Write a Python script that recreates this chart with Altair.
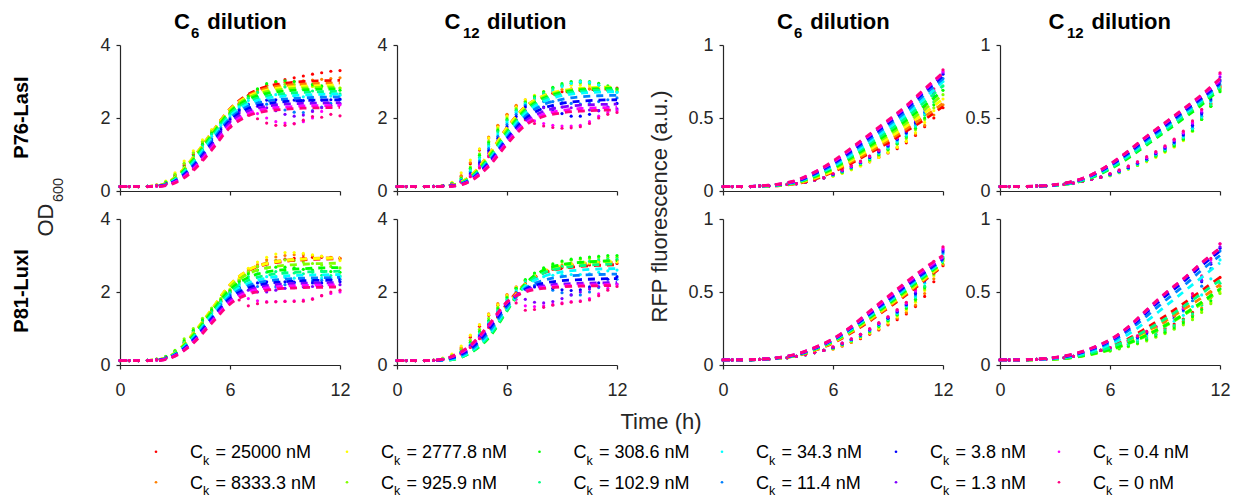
import altair as alt
import pandas as pd

FONT = "Liberation Sans"
INK = "#262626"

T_DOT = [0, 0.5, 1, 1.5, 2, 2.5, 3, 3.5, 4, 4.5, 5, 5.5, 6, 6.5, 7, 7.5, 8, 8.5, 9, 9.5, 10, 10.5, 11, 11.5, 12]
T_FIT = [0, 1, 2, 3, 4, 5, 6, 7, 8, 9, 10, 11, 12]

CONC = ["25000", "8333.3", "2777.8", "925.9", "308.6", "102.9", "34.3", "11.4", "3.8", "1.3", "0.4", "0"]
COLORS = ["#ff0000", "#ff8000", "#ffff00", "#80ff00", "#00ff00", "#00ff80",
          "#00ffff", "#0080ff", "#0000ff", "#8000ff", "#ff00ff", "#ff0080"]

# ---------------- P76-LasI, C6 dilution, OD600 ----------------
A_DOTS = [
    [0.12,0.12,0.12,0.13,0.16,0.24,0.42,0.70,1.00,1.32,1.62,1.90,2.15,2.40,2.62,2.78,2.90,2.98,3.05,3.10,3.15,3.20,3.24,3.28,3.30],
    [0.12,0.12,0.12,0.13,0.16,0.25,0.45,0.74,1.05,1.36,1.66,1.93,2.17,2.40,2.60,2.75,2.86,2.93,2.98,3.00,3.02,3.04,3.06,3.08,3.10],
    [0.12,0.12,0.12,0.13,0.17,0.27,0.50,0.82,1.10,1.40,1.68,1.94,2.16,2.38,2.56,2.70,2.79,2.84,2.86,2.87,2.87,2.86,2.85,2.83,2.82],
    [0.12,0.12,0.12,0.13,0.16,0.25,0.46,0.76,1.04,1.34,1.63,1.90,2.14,2.36,2.56,2.72,2.84,2.90,2.92,2.92,2.90,2.88,2.86,2.84,2.82],
    [0.12,0.12,0.12,0.13,0.15,0.23,0.40,0.66,0.96,1.28,1.58,1.87,2.12,2.36,2.60,2.80,2.94,3.00,3.02,3.00,2.96,2.92,2.88,2.82,2.76],
    [0.12,0.12,0.12,0.13,0.15,0.22,0.38,0.62,0.92,1.24,1.55,1.84,2.10,2.33,2.54,2.70,2.80,2.85,2.85,2.82,2.78,2.74,2.70,2.68,2.66],
    [0.12,0.12,0.12,0.13,0.15,0.21,0.35,0.58,0.87,1.19,1.50,1.80,2.06,2.30,2.48,2.58,2.63,2.64,2.62,2.60,2.58,2.57,2.58,2.60,2.62],
    [0.12,0.12,0.12,0.13,0.15,0.20,0.33,0.54,0.81,1.12,1.43,1.73,2.00,2.24,2.38,2.42,2.38,2.30,2.22,2.16,2.15,2.20,2.30,2.40,2.50],
    [0.12,0.12,0.12,0.13,0.14,0.20,0.31,0.50,0.76,1.06,1.38,1.68,1.96,2.20,2.36,2.45,2.49,2.50,2.50,2.49,2.48,2.48,2.49,2.50,2.52],
    [0.12,0.12,0.12,0.12,0.14,0.19,0.29,0.46,0.70,1.00,1.32,1.62,1.90,2.14,2.28,2.32,2.28,2.20,2.10,2.05,2.08,2.18,2.28,2.35,2.40],
    [0.12,0.12,0.12,0.12,0.14,0.18,0.27,0.42,0.64,0.92,1.22,1.52,1.80,2.04,2.16,2.12,2.00,1.90,1.86,1.85,1.90,2.00,2.18,2.30,2.36],
    [0.12,0.12,0.12,0.12,0.14,0.18,0.26,0.40,0.60,0.86,1.16,1.46,1.74,1.98,2.08,1.98,1.86,1.80,1.80,1.84,1.94,2.04,2.02,2.10,2.06],
]
A_FIT = [
    [0.12,0.12,0.14,0.36,0.90,1.58,2.25,2.65,2.86,2.95,3.00,3.02,3.03],
    [0.12,0.12,0.14,0.37,0.92,1.60,2.25,2.62,2.81,2.89,2.93,2.95,2.96],
    [0.12,0.12,0.14,0.37,0.92,1.59,2.23,2.59,2.76,2.84,2.87,2.89,2.90],
    [0.12,0.12,0.14,0.35,0.89,1.56,2.20,2.55,2.72,2.79,2.82,2.84,2.85],
    [0.12,0.12,0.13,0.34,0.85,1.52,2.16,2.51,2.67,2.74,2.77,2.79,2.80],
    [0.12,0.12,0.13,0.32,0.81,1.47,2.11,2.45,2.60,2.67,2.70,2.72,2.73],
    [0.12,0.12,0.13,0.30,0.77,1.42,2.05,2.39,2.54,2.60,2.63,2.65,2.66],
    [0.12,0.12,0.13,0.28,0.72,1.36,1.99,2.32,2.46,2.52,2.55,2.57,2.58],
    [0.12,0.12,0.13,0.27,0.68,1.30,1.93,2.26,2.39,2.45,2.48,2.49,2.50],
    [0.12,0.12,0.13,0.25,0.64,1.24,1.87,2.19,2.32,2.38,2.40,2.41,2.42],
    [0.12,0.12,0.12,0.24,0.60,1.18,1.80,2.12,2.25,2.30,2.33,2.34,2.35],
    [0.12,0.12,0.12,0.22,0.56,1.12,1.74,2.06,2.19,2.24,2.27,2.28,2.29],
]

# ---------------- P76-LasI, C12 dilution, OD600 ----------------
B_DOTS = [
    [0.12,0.12,0.12,0.12,0.13,0.15,0.22,0.40,0.75,1.12,1.45,1.78,2.08,2.32,2.45,2.55,2.62,2.68,2.72,2.75,2.78,2.80,2.82,2.83,2.82],
    [0.12,0.12,0.12,0.12,0.13,0.15,0.22,0.42,0.78,1.15,1.48,1.80,2.10,2.35,2.50,2.60,2.68,2.74,2.78,2.80,2.80,2.80,2.78,2.76,2.74],
    [0.12,0.12,0.12,0.12,0.13,0.15,0.24,0.50,0.85,1.15,1.45,1.75,2.05,2.30,2.50,2.62,2.72,2.80,2.86,2.90,2.90,2.88,2.85,2.80,2.75],
    [0.12,0.12,0.12,0.12,0.13,0.15,0.21,0.36,0.66,1.02,1.36,1.70,2.00,2.26,2.45,2.60,2.72,2.82,2.90,2.95,2.96,2.94,2.90,2.84,2.78],
    [0.12,0.12,0.12,0.12,0.13,0.14,0.20,0.34,0.62,0.98,1.32,1.66,1.96,2.22,2.42,2.58,2.72,2.84,2.94,3.00,3.02,3.00,2.95,2.88,2.80],
    [0.12,0.12,0.12,0.12,0.13,0.14,0.19,0.32,0.58,0.92,1.27,1.62,1.93,2.20,2.40,2.55,2.68,2.80,2.90,2.96,2.98,2.96,2.90,2.82,2.72],
    [0.12,0.12,0.12,0.12,0.13,0.14,0.19,0.30,0.54,0.88,1.22,1.56,1.88,2.16,2.38,2.50,2.62,2.74,2.86,2.95,3.00,2.98,2.90,2.80,2.70],
    [0.12,0.12,0.12,0.12,0.13,0.14,0.18,0.28,0.50,0.82,1.16,1.50,1.82,2.10,2.35,2.42,2.45,2.45,2.42,2.40,2.38,2.40,2.45,2.50,2.55],
    [0.12,0.12,0.12,0.12,0.13,0.14,0.18,0.27,0.47,0.77,1.10,1.44,1.76,2.04,2.30,2.32,2.30,2.22,2.12,2.05,2.05,2.10,2.20,2.30,2.40],
    [0.12,0.12,0.12,0.12,0.13,0.14,0.17,0.26,0.44,0.72,1.04,1.37,1.69,1.96,2.20,2.25,2.28,2.30,2.30,2.28,2.25,2.22,2.20,2.22,2.25],
    [0.12,0.12,0.12,0.12,0.12,0.13,0.17,0.25,0.41,0.67,0.98,1.30,1.62,1.88,2.00,1.92,1.85,1.80,1.78,1.78,1.80,1.90,2.05,2.15,2.20],
    [0.12,0.12,0.12,0.12,0.12,0.13,0.16,0.24,0.39,0.63,0.94,1.26,1.58,1.84,1.95,1.85,1.78,1.74,1.72,1.73,1.76,1.85,2.00,2.10,2.15],
]
B_FIT = [
    [0.12,0.12,0.12,0.16,0.40,0.98,1.72,2.30,2.58,2.70,2.76,2.79,2.80],
    [0.12,0.12,0.12,0.16,0.41,1.00,1.74,2.31,2.60,2.73,2.79,2.82,2.83],
    [0.12,0.12,0.12,0.16,0.41,0.99,1.72,2.30,2.61,2.75,2.81,2.84,2.85],
    [0.12,0.12,0.12,0.15,0.38,0.94,1.66,2.25,2.57,2.72,2.79,2.82,2.83],
    [0.12,0.12,0.12,0.15,0.36,0.90,1.61,2.21,2.54,2.70,2.77,2.80,2.81],
    [0.12,0.12,0.12,0.15,0.35,0.87,1.57,2.17,2.50,2.66,2.73,2.76,2.77],
    [0.12,0.12,0.12,0.14,0.33,0.83,1.52,2.12,2.45,2.61,2.68,2.71,2.72],
    [0.12,0.12,0.12,0.14,0.32,0.80,1.47,2.05,2.37,2.51,2.58,2.61,2.62],
    [0.12,0.12,0.12,0.14,0.30,0.76,1.42,1.98,2.27,2.40,2.46,2.49,2.50],
    [0.12,0.12,0.12,0.14,0.29,0.73,1.37,1.91,2.18,2.30,2.35,2.37,2.38],
    [0.12,0.12,0.12,0.13,0.28,0.70,1.32,1.85,2.10,2.21,2.26,2.28,2.29],
    [0.12,0.12,0.12,0.13,0.27,0.67,1.28,1.80,2.04,2.14,2.19,2.21,2.22],
]

# ---------------- P81-LuxI, C6 dilution, OD600 ----------------
C_DOTS = [
    [0.12,0.12,0.12,0.13,0.15,0.21,0.34,0.58,0.88,1.18,1.46,1.74,2.00,2.30,2.55,2.70,2.80,2.86,2.90,2.92,2.94,2.95,2.95,2.94,2.92],
    [0.12,0.12,0.12,0.13,0.15,0.22,0.36,0.62,0.92,1.22,1.50,1.78,2.04,2.34,2.60,2.75,2.88,2.96,3.00,3.02,3.02,3.00,2.98,2.95,2.92],
    [0.12,0.12,0.12,0.13,0.16,0.23,0.38,0.66,0.96,1.26,1.54,1.82,2.08,2.38,2.65,2.82,2.95,3.04,3.08,3.08,3.06,3.02,2.98,2.92,2.86],
    [0.12,0.12,0.12,0.13,0.16,0.24,0.40,0.72,1.00,1.28,1.56,1.82,2.06,2.32,2.55,2.70,2.80,2.86,2.88,2.86,2.82,2.78,2.74,2.70,2.66],
    [0.12,0.12,0.12,0.13,0.16,0.23,0.38,0.66,0.95,1.23,1.51,1.78,2.03,2.28,2.50,2.60,2.66,2.68,2.68,2.66,2.62,2.60,2.58,2.56,2.54],
    [0.12,0.12,0.12,0.13,0.15,0.22,0.36,0.62,0.90,1.18,1.46,1.74,1.99,2.22,2.42,2.50,2.54,2.56,2.55,2.52,2.50,2.48,2.46,2.45,2.44],
    [0.12,0.12,0.12,0.13,0.15,0.21,0.34,0.58,0.85,1.13,1.41,1.70,1.95,2.17,2.35,2.40,2.42,2.42,2.40,2.38,2.36,2.36,2.38,2.40,2.42],
    [0.12,0.12,0.12,0.13,0.15,0.20,0.32,0.54,0.80,1.08,1.36,1.65,1.92,2.10,2.20,2.15,2.12,2.14,2.20,2.25,2.28,2.30,2.32,2.34,2.35],
    [0.12,0.12,0.12,0.13,0.14,0.20,0.31,0.51,0.76,1.04,1.32,1.61,1.88,2.12,2.20,2.25,2.28,2.28,2.28,2.27,2.26,2.25,2.25,2.26,2.28],
    [0.12,0.12,0.12,0.12,0.14,0.19,0.29,0.48,0.72,0.99,1.28,1.57,1.83,2.02,2.05,2.00,2.00,2.05,2.10,2.12,2.14,2.15,2.16,2.18,2.20],
    [0.12,0.12,0.12,0.12,0.14,0.18,0.27,0.45,0.68,0.95,1.24,1.53,1.80,1.92,1.82,1.76,1.74,1.74,1.75,1.76,1.78,1.82,1.90,1.96,2.00],
    [0.12,0.12,0.12,0.12,0.14,0.18,0.26,0.43,0.65,0.92,1.21,1.50,1.76,1.78,1.62,1.68,1.72,1.73,1.74,1.74,1.75,1.80,1.90,2.00,2.05],
]
C_FIT = [
    [0.12,0.12,0.14,0.32,0.84,1.50,2.18,2.58,2.76,2.84,2.88,2.90,2.91],
    [0.12,0.12,0.14,0.33,0.86,1.52,2.20,2.60,2.79,2.87,2.91,2.93,2.94],
    [0.12,0.12,0.14,0.33,0.87,1.53,2.20,2.60,2.78,2.86,2.90,2.92,2.93],
    [0.12,0.12,0.14,0.32,0.84,1.49,2.13,2.50,2.66,2.73,2.76,2.78,2.79],
    [0.12,0.12,0.13,0.31,0.80,1.44,2.06,2.40,2.55,2.61,2.64,2.66,2.67],
    [0.12,0.12,0.13,0.30,0.77,1.39,1.99,2.32,2.46,2.52,2.55,2.56,2.57],
    [0.12,0.12,0.13,0.29,0.74,1.35,1.93,2.24,2.38,2.44,2.46,2.47,2.48],
    [0.12,0.12,0.13,0.28,0.71,1.30,1.87,2.17,2.30,2.35,2.38,2.39,2.40],
    [0.12,0.12,0.13,0.27,0.68,1.26,1.82,2.11,2.23,2.28,2.31,2.32,2.33],
    [0.12,0.12,0.13,0.26,0.65,1.22,1.77,2.05,2.17,2.22,2.24,2.25,2.26],
    [0.12,0.12,0.12,0.25,0.62,1.18,1.72,2.00,2.11,2.16,2.18,2.19,2.20],
    [0.12,0.12,0.12,0.24,0.60,1.14,1.67,1.94,2.05,2.10,2.12,2.13,2.14],
]

# ---------------- P81-LuxI, C12 dilution, OD600 ----------------
D_DOTS = [
    [0.12,0.12,0.12,0.12,0.13,0.17,0.26,0.44,0.76,1.06,1.36,1.64,1.90,2.12,2.30,2.45,2.55,2.62,2.67,2.70,2.72,2.74,2.76,2.77,2.78],
    [0.12,0.12,0.12,0.12,0.13,0.18,0.28,0.48,0.80,1.10,1.40,1.68,1.93,2.14,2.32,2.48,2.60,2.68,2.74,2.78,2.80,2.82,2.84,2.85,2.86],
    [0.12,0.12,0.12,0.12,0.14,0.19,0.30,0.52,0.82,1.10,1.38,1.65,1.90,2.12,2.30,2.45,2.56,2.64,2.70,2.74,2.77,2.79,2.80,2.81,2.82],
    [0.12,0.12,0.12,0.12,0.13,0.17,0.26,0.42,0.68,0.98,1.28,1.58,1.86,2.10,2.32,2.50,2.64,2.74,2.82,2.87,2.90,2.92,2.94,2.95,2.95],
    [0.12,0.12,0.12,0.12,0.13,0.16,0.24,0.38,0.62,0.92,1.22,1.54,1.84,2.10,2.34,2.52,2.66,2.77,2.85,2.90,2.93,2.96,2.98,3.00,3.00],
    [0.12,0.12,0.12,0.12,0.13,0.16,0.23,0.36,0.58,0.88,1.18,1.50,1.80,2.06,2.30,2.45,2.56,2.64,2.70,2.75,2.80,2.84,2.88,2.90,2.90],
    [0.12,0.12,0.12,0.12,0.13,0.16,0.22,0.35,0.56,0.84,1.15,1.47,1.76,2.02,2.25,2.35,2.42,2.46,2.48,2.48,2.48,2.50,2.54,2.58,2.60],
    [0.12,0.12,0.12,0.12,0.13,0.15,0.22,0.34,0.54,0.81,1.12,1.44,1.74,1.98,2.15,2.18,2.15,2.05,1.98,1.92,1.92,2.00,2.12,2.25,2.35],
    [0.12,0.12,0.12,0.12,0.13,0.15,0.21,0.33,0.52,0.78,1.10,1.42,1.72,1.96,2.10,2.14,2.14,2.10,2.06,2.04,2.06,2.14,2.25,2.35,2.42],
    [0.12,0.12,0.12,0.12,0.13,0.15,0.21,0.32,0.50,0.76,1.07,1.40,1.70,1.92,1.80,1.72,1.70,1.74,1.82,1.92,2.00,2.08,2.15,2.20,2.22],
    [0.12,0.12,0.12,0.12,0.13,0.15,0.20,0.31,0.49,0.74,1.05,1.38,1.68,1.80,1.62,1.60,1.62,1.66,1.70,1.74,1.76,1.82,1.95,2.10,2.20],
    [0.12,0.12,0.12,0.12,0.13,0.15,0.20,0.30,0.48,0.72,1.03,1.36,1.66,1.70,1.50,1.52,1.58,1.64,1.68,1.72,1.74,1.78,1.90,2.05,2.15],
]
D_FIT = [
    [0.12,0.12,0.12,0.18,0.42,0.95,1.68,2.22,2.52,2.64,2.70,2.73,2.75],
    [0.12,0.12,0.12,0.17,0.40,0.90,1.64,2.22,2.55,2.69,2.76,2.79,2.81],
    [0.12,0.12,0.12,0.16,0.38,0.85,1.60,2.22,2.57,2.72,2.79,2.82,2.84],
    [0.12,0.12,0.12,0.15,0.35,0.78,1.53,2.22,2.59,2.74,2.81,2.84,2.86],
    [0.12,0.12,0.12,0.15,0.33,0.74,1.48,2.22,2.60,2.75,2.81,2.84,2.86],
    [0.12,0.12,0.12,0.15,0.34,0.77,1.50,2.18,2.52,2.66,2.72,2.75,2.77],
    [0.12,0.12,0.12,0.16,0.37,0.83,1.56,2.15,2.43,2.55,2.60,2.63,2.64],
    [0.12,0.12,0.12,0.18,0.41,0.90,1.60,2.10,2.32,2.42,2.46,2.48,2.49],
    [0.12,0.12,0.13,0.20,0.45,0.98,1.66,2.07,2.24,2.31,2.34,2.36,2.37],
    [0.12,0.12,0.13,0.22,0.49,1.04,1.70,2.04,2.17,2.22,2.24,2.25,2.26],
    [0.12,0.12,0.13,0.23,0.52,1.08,1.72,2.02,2.13,2.17,2.19,2.20,2.21],
    [0.12,0.12,0.13,0.24,0.54,1.10,1.73,2.00,2.10,2.14,2.16,2.17,2.18],
]

# ---------------- P76-LasI, C6 dilution, RFP ----------------
E_DOTS = [
    [0.03,0.03,0.03,0.03,0.035,0.035,0.04,0.045,0.05,0.06,0.075,0.09,0.105,0.125,0.15,0.175,0.20,0.23,0.26,0.29,0.33,0.38,0.44,0.50,0.57],
    [0.03,0.03,0.03,0.03,0.035,0.035,0.04,0.045,0.05,0.06,0.075,0.09,0.105,0.125,0.15,0.175,0.205,0.235,0.265,0.30,0.34,0.39,0.45,0.52,0.59],
    [0.03,0.03,0.03,0.03,0.035,0.035,0.04,0.045,0.05,0.06,0.075,0.09,0.10,0.12,0.145,0.17,0.20,0.23,0.265,0.30,0.34,0.40,0.47,0.55,0.63],
    [0.03,0.03,0.03,0.03,0.035,0.035,0.04,0.045,0.05,0.06,0.075,0.09,0.105,0.125,0.15,0.18,0.21,0.245,0.28,0.32,0.36,0.42,0.49,0.57,0.66],
    [0.03,0.03,0.03,0.03,0.035,0.035,0.04,0.045,0.05,0.06,0.075,0.09,0.11,0.13,0.155,0.185,0.215,0.25,0.285,0.325,0.37,0.43,0.50,0.59,0.69],
    [0.03,0.03,0.03,0.03,0.035,0.035,0.04,0.045,0.05,0.06,0.075,0.09,0.11,0.13,0.16,0.19,0.22,0.255,0.29,0.33,0.375,0.44,0.52,0.61,0.72],
    [0.03,0.03,0.03,0.03,0.035,0.035,0.04,0.045,0.05,0.06,0.075,0.09,0.11,0.135,0.16,0.19,0.225,0.26,0.30,0.34,0.385,0.45,0.53,0.63,0.75],
    [0.03,0.03,0.03,0.03,0.035,0.035,0.04,0.045,0.05,0.06,0.075,0.09,0.115,0.135,0.165,0.195,0.23,0.265,0.305,0.35,0.395,0.46,0.54,0.65,0.77],
    [0.03,0.03,0.03,0.03,0.035,0.035,0.04,0.045,0.05,0.06,0.075,0.09,0.115,0.14,0.165,0.195,0.23,0.27,0.31,0.355,0.40,0.47,0.56,0.67,0.80],
    [0.03,0.03,0.03,0.03,0.035,0.035,0.04,0.045,0.05,0.06,0.075,0.09,0.115,0.14,0.17,0.20,0.235,0.275,0.315,0.36,0.41,0.48,0.57,0.68,0.81],
    [0.03,0.03,0.03,0.03,0.035,0.035,0.04,0.045,0.05,0.06,0.075,0.09,0.12,0.145,0.17,0.20,0.24,0.28,0.32,0.365,0.415,0.49,0.58,0.69,0.82],
    [0.03,0.03,0.03,0.03,0.035,0.035,0.04,0.045,0.05,0.06,0.075,0.09,0.12,0.145,0.175,0.205,0.24,0.28,0.325,0.37,0.42,0.49,0.58,0.70,0.83],
]
E_FIT = [
    [0.03,0.03,0.032,0.036,0.050,0.080,0.130,0.190,0.260,0.330,0.410,0.490,0.580],
    [0.03,0.03,0.032,0.037,0.052,0.085,0.135,0.200,0.270,0.345,0.425,0.510,0.600],
    [0.03,0.03,0.032,0.038,0.054,0.090,0.140,0.210,0.285,0.360,0.445,0.535,0.630],
    [0.03,0.03,0.032,0.039,0.056,0.095,0.150,0.220,0.300,0.380,0.465,0.560,0.660],
    [0.03,0.03,0.033,0.040,0.058,0.100,0.155,0.230,0.310,0.395,0.485,0.585,0.690],
    [0.03,0.03,0.033,0.041,0.060,0.105,0.165,0.240,0.325,0.410,0.505,0.610,0.720],
    [0.03,0.03,0.033,0.042,0.062,0.110,0.170,0.250,0.340,0.430,0.525,0.635,0.750],
    [0.03,0.03,0.034,0.043,0.065,0.115,0.180,0.265,0.355,0.450,0.545,0.660,0.770],
    [0.03,0.03,0.034,0.044,0.067,0.120,0.190,0.275,0.370,0.465,0.565,0.680,0.790],
    [0.03,0.03,0.034,0.045,0.070,0.125,0.195,0.285,0.380,0.475,0.575,0.690,0.800],
    [0.03,0.03,0.035,0.046,0.072,0.130,0.200,0.290,0.385,0.480,0.580,0.695,0.810],
    [0.03,0.03,0.035,0.047,0.074,0.130,0.205,0.295,0.390,0.485,0.585,0.700,0.810],
]

# ---------------- P76-LasI, C12 dilution, RFP ----------------
F_DOTS = [
    [0.03,0.03,0.03,0.03,0.035,0.035,0.04,0.045,0.055,0.065,0.08,0.095,0.11,0.13,0.155,0.18,0.21,0.245,0.28,0.32,0.37,0.43,0.51,0.60,0.72],
    [0.03,0.03,0.03,0.03,0.035,0.035,0.04,0.045,0.055,0.065,0.08,0.095,0.11,0.13,0.155,0.18,0.21,0.24,0.275,0.315,0.36,0.42,0.50,0.59,0.71],
    [0.03,0.03,0.03,0.03,0.035,0.035,0.04,0.045,0.055,0.065,0.08,0.095,0.105,0.125,0.15,0.175,0.20,0.23,0.265,0.30,0.345,0.41,0.49,0.58,0.70],
    [0.03,0.03,0.03,0.03,0.035,0.035,0.04,0.045,0.055,0.065,0.08,0.095,0.105,0.125,0.15,0.175,0.205,0.235,0.27,0.305,0.35,0.41,0.49,0.58,0.69],
    [0.03,0.03,0.03,0.03,0.035,0.035,0.04,0.045,0.055,0.065,0.08,0.095,0.11,0.13,0.155,0.18,0.21,0.24,0.275,0.31,0.355,0.415,0.49,0.58,0.68],
    [0.03,0.03,0.03,0.03,0.035,0.035,0.04,0.045,0.055,0.065,0.08,0.095,0.11,0.13,0.155,0.18,0.21,0.245,0.28,0.32,0.365,0.425,0.50,0.59,0.70],
    [0.03,0.03,0.03,0.03,0.035,0.035,0.04,0.045,0.055,0.065,0.08,0.095,0.11,0.13,0.155,0.185,0.215,0.25,0.285,0.325,0.37,0.43,0.51,0.61,0.73],
    [0.03,0.03,0.03,0.03,0.035,0.035,0.04,0.045,0.055,0.065,0.08,0.095,0.115,0.135,0.16,0.19,0.22,0.255,0.29,0.33,0.38,0.44,0.52,0.62,0.75],
    [0.03,0.03,0.03,0.03,0.035,0.035,0.04,0.045,0.055,0.065,0.08,0.095,0.115,0.135,0.16,0.19,0.22,0.255,0.295,0.335,0.385,0.45,0.53,0.63,0.76],
    [0.03,0.03,0.03,0.03,0.035,0.035,0.04,0.045,0.055,0.065,0.08,0.095,0.115,0.14,0.165,0.195,0.225,0.26,0.30,0.345,0.395,0.46,0.54,0.65,0.78],
    [0.03,0.03,0.03,0.03,0.035,0.035,0.04,0.045,0.055,0.065,0.08,0.095,0.12,0.14,0.17,0.20,0.23,0.265,0.305,0.35,0.40,0.47,0.55,0.66,0.80],
    [0.03,0.03,0.03,0.03,0.035,0.035,0.04,0.045,0.055,0.065,0.08,0.095,0.12,0.145,0.17,0.20,0.235,0.27,0.31,0.355,0.41,0.48,0.56,0.67,0.81],
]
F_FIT = [
    [0.03,0.03,0.033,0.042,0.065,0.110,0.180,0.270,0.370,0.460,0.550,0.640,0.740],
    [0.03,0.03,0.033,0.041,0.063,0.105,0.175,0.260,0.355,0.445,0.535,0.625,0.730],
    [0.03,0.03,0.033,0.040,0.060,0.100,0.165,0.250,0.340,0.430,0.520,0.610,0.720],
    [0.03,0.03,0.032,0.039,0.057,0.095,0.155,0.235,0.325,0.415,0.505,0.600,0.710],
    [0.03,0.03,0.032,0.038,0.055,0.090,0.150,0.225,0.315,0.405,0.495,0.590,0.700],
    [0.03,0.03,0.032,0.039,0.057,0.095,0.155,0.235,0.325,0.415,0.510,0.605,0.710],
    [0.03,0.03,0.033,0.040,0.060,0.100,0.165,0.245,0.340,0.430,0.525,0.620,0.720],
    [0.03,0.03,0.033,0.041,0.062,0.105,0.170,0.255,0.350,0.440,0.535,0.630,0.730],
    [0.03,0.03,0.033,0.042,0.064,0.108,0.175,0.262,0.360,0.450,0.545,0.640,0.740],
    [0.03,0.03,0.033,0.042,0.065,0.110,0.180,0.270,0.370,0.460,0.555,0.650,0.750],
    [0.03,0.03,0.034,0.043,0.066,0.112,0.183,0.273,0.373,0.465,0.560,0.655,0.760],
    [0.03,0.03,0.034,0.043,0.067,0.113,0.185,0.275,0.375,0.468,0.562,0.660,0.770],
]

# ---------------- P81-LuxI, C6 dilution, RFP ----------------
G_DOTS = [
    [0.035,0.035,0.035,0.035,0.038,0.04,0.045,0.05,0.06,0.07,0.085,0.10,0.11,0.13,0.155,0.18,0.21,0.24,0.275,0.31,0.35,0.40,0.47,0.57,0.68],
    [0.035,0.035,0.035,0.035,0.038,0.04,0.045,0.05,0.06,0.07,0.085,0.10,0.11,0.13,0.155,0.185,0.215,0.245,0.28,0.32,0.36,0.41,0.49,0.59,0.69],
    [0.035,0.035,0.035,0.035,0.038,0.04,0.045,0.05,0.06,0.07,0.085,0.10,0.11,0.135,0.16,0.19,0.22,0.25,0.29,0.33,0.375,0.43,0.51,0.61,0.71],
    [0.035,0.035,0.035,0.035,0.038,0.04,0.045,0.05,0.06,0.07,0.085,0.10,0.115,0.14,0.165,0.195,0.225,0.26,0.30,0.34,0.385,0.44,0.52,0.62,0.72],
    [0.035,0.035,0.035,0.035,0.038,0.04,0.045,0.05,0.06,0.07,0.085,0.10,0.115,0.14,0.165,0.195,0.23,0.265,0.305,0.345,0.39,0.45,0.53,0.63,0.73],
    [0.035,0.035,0.035,0.035,0.038,0.04,0.045,0.05,0.06,0.07,0.085,0.10,0.115,0.14,0.17,0.20,0.235,0.27,0.31,0.35,0.40,0.46,0.54,0.64,0.74],
    [0.035,0.035,0.035,0.035,0.038,0.04,0.045,0.05,0.06,0.07,0.085,0.10,0.12,0.145,0.17,0.20,0.235,0.275,0.315,0.355,0.405,0.47,0.56,0.66,0.76],
    [0.035,0.035,0.035,0.035,0.038,0.04,0.045,0.05,0.06,0.07,0.085,0.10,0.12,0.145,0.175,0.205,0.24,0.28,0.32,0.36,0.41,0.48,0.57,0.67,0.77],
    [0.035,0.035,0.035,0.035,0.038,0.04,0.045,0.05,0.06,0.07,0.085,0.10,0.12,0.145,0.175,0.205,0.24,0.28,0.32,0.365,0.415,0.49,0.58,0.68,0.78],
    [0.035,0.035,0.035,0.035,0.038,0.04,0.045,0.05,0.06,0.07,0.085,0.10,0.12,0.15,0.175,0.21,0.245,0.285,0.325,0.37,0.42,0.50,0.59,0.69,0.79],
    [0.035,0.035,0.035,0.035,0.038,0.04,0.045,0.05,0.06,0.07,0.085,0.10,0.125,0.15,0.18,0.21,0.245,0.285,0.33,0.375,0.425,0.51,0.60,0.70,0.80],
    [0.035,0.035,0.035,0.035,0.038,0.04,0.045,0.05,0.06,0.07,0.085,0.10,0.125,0.15,0.18,0.21,0.25,0.29,0.33,0.38,0.43,0.52,0.61,0.71,0.81],
]
G_FIT = [
    [0.035,0.035,0.037,0.045,0.063,0.100,0.150,0.220,0.300,0.390,0.480,0.580,0.680],
    [0.035,0.035,0.037,0.046,0.064,0.102,0.153,0.225,0.306,0.397,0.488,0.587,0.686],
    [0.035,0.035,0.038,0.046,0.065,0.104,0.156,0.230,0.313,0.404,0.497,0.594,0.692],
    [0.035,0.035,0.038,0.047,0.066,0.106,0.159,0.234,0.320,0.411,0.505,0.601,0.698],
    [0.035,0.035,0.038,0.047,0.067,0.108,0.162,0.239,0.326,0.418,0.514,0.609,0.704],
    [0.035,0.035,0.038,0.048,0.068,0.110,0.165,0.243,0.333,0.425,0.522,0.616,0.710],
    [0.035,0.035,0.039,0.048,0.069,0.111,0.168,0.248,0.339,0.432,0.530,0.623,0.716],
    [0.035,0.035,0.039,0.049,0.070,0.113,0.171,0.252,0.346,0.440,0.538,0.630,0.722],
    [0.035,0.035,0.039,0.049,0.071,0.115,0.174,0.256,0.352,0.448,0.546,0.637,0.728],
    [0.035,0.035,0.040,0.050,0.073,0.117,0.176,0.260,0.358,0.456,0.555,0.645,0.735],
    [0.035,0.035,0.040,0.050,0.074,0.119,0.178,0.263,0.364,0.463,0.563,0.656,0.742],
    [0.035,0.035,0.040,0.050,0.075,0.120,0.180,0.265,0.370,0.470,0.570,0.665,0.750],
]

# ---------------- P81-LuxI, C12 dilution, RFP ----------------
H_DOTS = [
    [0.035,0.035,0.035,0.035,0.038,0.04,0.045,0.05,0.06,0.07,0.085,0.10,0.11,0.13,0.15,0.175,0.20,0.225,0.25,0.28,0.315,0.36,0.42,0.50,0.60],
    [0.035,0.035,0.035,0.035,0.038,0.04,0.045,0.05,0.06,0.07,0.085,0.10,0.105,0.12,0.14,0.16,0.185,0.21,0.235,0.265,0.30,0.34,0.39,0.46,0.54],
    [0.035,0.035,0.035,0.035,0.038,0.04,0.045,0.05,0.06,0.07,0.085,0.10,0.10,0.115,0.13,0.15,0.17,0.195,0.22,0.25,0.28,0.32,0.37,0.43,0.50],
    [0.035,0.035,0.035,0.035,0.038,0.04,0.045,0.05,0.06,0.07,0.085,0.10,0.095,0.11,0.125,0.145,0.165,0.19,0.215,0.245,0.275,0.31,0.36,0.42,0.49],
    [0.035,0.035,0.035,0.035,0.038,0.04,0.045,0.05,0.06,0.07,0.085,0.10,0.10,0.115,0.13,0.15,0.175,0.20,0.225,0.255,0.29,0.33,0.38,0.44,0.52],
    [0.035,0.035,0.035,0.035,0.038,0.04,0.045,0.05,0.06,0.07,0.085,0.10,0.105,0.12,0.14,0.16,0.185,0.21,0.24,0.27,0.31,0.35,0.41,0.48,0.56],
    [0.035,0.035,0.035,0.035,0.038,0.04,0.045,0.05,0.06,0.07,0.085,0.10,0.11,0.13,0.15,0.175,0.20,0.23,0.26,0.30,0.34,0.40,0.48,0.59,0.72],
    [0.035,0.035,0.035,0.035,0.038,0.04,0.045,0.05,0.06,0.07,0.085,0.10,0.115,0.135,0.16,0.185,0.215,0.245,0.28,0.32,0.37,0.44,0.54,0.66,0.78],
    [0.035,0.035,0.035,0.035,0.038,0.04,0.045,0.05,0.06,0.07,0.085,0.10,0.12,0.14,0.165,0.19,0.22,0.255,0.29,0.33,0.38,0.46,0.57,0.69,0.80],
    [0.035,0.035,0.035,0.035,0.038,0.04,0.045,0.05,0.06,0.07,0.085,0.10,0.12,0.14,0.165,0.195,0.225,0.26,0.295,0.335,0.385,0.47,0.58,0.70,0.81],
    [0.035,0.035,0.035,0.035,0.038,0.04,0.045,0.05,0.06,0.07,0.085,0.10,0.12,0.145,0.17,0.20,0.23,0.265,0.30,0.34,0.39,0.48,0.60,0.72,0.83],
    [0.035,0.035,0.035,0.035,0.038,0.04,0.045,0.05,0.06,0.07,0.085,0.10,0.12,0.145,0.17,0.20,0.23,0.265,0.30,0.345,0.40,0.49,0.61,0.73,0.83],
]
H_FIT = [
    [0.035,0.035,0.037,0.043,0.057,0.085,0.125,0.180,0.255,0.335,0.420,0.510,0.600],
    [0.035,0.035,0.036,0.042,0.054,0.080,0.115,0.165,0.230,0.300,0.380,0.460,0.550],
    [0.035,0.035,0.036,0.041,0.052,0.075,0.108,0.152,0.210,0.275,0.350,0.430,0.520],
    [0.035,0.035,0.036,0.040,0.051,0.073,0.104,0.146,0.200,0.265,0.340,0.420,0.510],
    [0.035,0.035,0.036,0.041,0.052,0.075,0.107,0.150,0.205,0.270,0.345,0.430,0.520],
    [0.035,0.035,0.037,0.043,0.056,0.083,0.120,0.172,0.240,0.315,0.400,0.490,0.580],
    [0.035,0.035,0.038,0.046,0.062,0.095,0.140,0.210,0.300,0.400,0.500,0.600,0.700],
    [0.035,0.035,0.039,0.048,0.067,0.104,0.155,0.235,0.335,0.440,0.540,0.650,0.750],
    [0.035,0.035,0.040,0.050,0.071,0.110,0.165,0.250,0.360,0.470,0.570,0.680,0.780],
    [0.035,0.035,0.040,0.051,0.073,0.113,0.170,0.258,0.372,0.485,0.585,0.695,0.800],
    [0.035,0.035,0.040,0.051,0.074,0.115,0.172,0.260,0.375,0.490,0.590,0.700,0.800],
    [0.035,0.035,0.040,0.052,0.075,0.116,0.174,0.262,0.378,0.490,0.590,0.700,0.800],
]

OD_TICKS = [0, 2, 4]
RFP_TICKS = [0, 0.5, 1]
X_TICKS = [0, 6, 12]

# layout constants (pixels)
PW, PH = 220, 146          # plot area of one panel
RFP_SHIFT = 49             # extra gap left of the RFP columns
LEG_COL_X = [36, 227, 419.5, 602, 776, 939]
LEG_ROW_Y = [58.8, 89.2]
TICK_FS = 18

ONE = pd.DataFrame({"k": [0]})
cscale = alt.Scale(domain=CONC, range=COLORS)


def long_df(times, series):
    rows = []
    for i, vals in enumerate(series):
        for t, v in zip(times, vals):
            rows.append({"t": t, "v": v, "s": CONC[i], "o": i})
    return pd.DataFrame(rows)


def txt(text, x, y, size, bold=False, angle=0, align="left", color="#000000"):
    kw = dict(text=text, font=FONT, fontSize=size, align=align, baseline="alphabetic", color=color)
    if bold:
        kw["fontWeight"] = "bold"
    if angle:
        kw["angle"] = angle
    return alt.Chart(ONE).mark_text(**kw).encode(x=alt.value(x), y=alt.value(y))


def title_layers(sub, xc, xs, xd):
    return [
        txt("C", xc, -16.5, 22, bold=True),
        txt(sub, xs, -7.5, 15, bold=True),
        txt("dilution", xd, -16.5, 22, bold=True),
    ]


def panel(dots, fits, ymax, yticks, xlabels, rfp=False, extras=()):
    w = PW + RFP_SHIFT if rfp else PW
    if rfp:
        xs = alt.Scale(domain=[0, 12], nice=False, zero=False, range=[RFP_SHIFT, PW + RFP_SHIFT])
    else:
        xs = alt.Scale(domain=[0, 12], nice=False, zero=False)
    xax = alt.Axis(values=X_TICKS, labels=xlabels, title=None, grid=False, labelFlush=False,
                   labelPadding=12, tickSize=4)
    yax_kw = dict(values=yticks, title=None, grid=False, format="~g", labelFlush=False,
                  labelPadding=6, tickSize=4)
    if rfp:
        yax_kw["offset"] = -RFP_SHIFT
    yax = alt.Axis(**yax_kw)
    x = alt.X("t:Q", scale=xs, axis=xax)
    y = alt.Y("v:Q", scale=alt.Scale(domain=[0, ymax], nice=False, zero=False), axis=yax)
    col = alt.Color("s:N", scale=cscale, legend=None)
    pts = alt.Chart(long_df(T_DOT, dots)).mark_circle(size=10, opacity=1).encode(
        x=x, y=y, color=col, order=alt.Order("o:Q"))
    lns = alt.Chart(long_df(T_FIT, fits)).mark_line(
        strokeDash=[7, 6], strokeWidth=2.8, interpolate="monotone").encode(
        x=x, y=y, color=col, detail="s:N")
    return alt.layer(pts, lns, *extras).properties(width=w, height=PH)


A = panel(A_DOTS, A_FIT, 4, OD_TICKS, False, extras=[
    *title_layers("6", 54, 71, 87.3),
    txt("P76-LasI", -91.7, 72.5, 20, bold=True, angle=270, align="center"),
])
B = panel(B_DOTS, B_FIT, 4, OD_TICKS, False, extras=title_layers("12", 47.5, 66, 90))
E = panel(E_DOTS, E_FIT, 1, RFP_TICKS, False, rfp=True,
          extras=title_layers("6", 54 + RFP_SHIFT, 71 + RFP_SHIFT, 87.3 + RFP_SHIFT))
F = panel(F_DOTS, F_FIT, 1, RFP_TICKS, False, extras=title_layers("12", 48.5, 67, 91.5))
C = panel(C_DOTS, C_FIT, 4, OD_TICKS, True, extras=[
    txt("P81-LuxI", -91.7, 72, 20, bold=True, angle=270, align="center"),
    txt("OD", -66.7, 1, 22, angle=270, align="center", color=INK),
    txt("600", -57, -29, 14.5, angle=270, align="center", color=INK),
])
D = panel(D_DOTS, D_FIT, 4, OD_TICKS, True)
G = panel(G_DOTS, G_FIT, 1, RFP_TICKS, True, rfp=True, extras=[
    txt("RFP fluorescence (a.u.)", -7, -12.5, 22, angle=270, align="center", color=INK),
])
H = panel(H_DOTS, H_FIT, 1, RFP_TICKS, True)

# legend drawn from the category list
leg_rows = []
for i, c in enumerate(CONC):
    cx = LEG_COL_X[i // 2]
    cy = LEG_ROW_Y[i % 2]
    leg_rows.append({"s": c, "o": i, "dx": cx, "dy": cy, "tx": cx + 34, "ty": cy + 6.4,
                     "kx": cx + 47, "ky": cy + 13, "rx": cx + 59.5, "rest": "= " + c + " nM"})
leg_df = pd.DataFrame(leg_rows)
lx = lambda f: alt.X(f + ":Q", scale=None, axis=None)
ly = lambda f: alt.Y(f + ":Q", scale=None, axis=None)
leg_dots = alt.Chart(leg_df).mark_circle(size=7, opacity=1).encode(
    x=lx("dx"), y=ly("dy"), color=alt.Color("s:N", scale=cscale, legend=None))
leg_c = alt.Chart(leg_df).mark_text(text="C", font=FONT, fontSize=18, align="left",
                                    baseline="alphabetic", color="#000000").encode(x=lx("tx"), y=ly("ty"))
leg_k = alt.Chart(leg_df).mark_text(text="k", font=FONT, fontSize=12.5, align="left",
                                    baseline="alphabetic", color="#000000").encode(x=lx("kx"), y=ly("ky"))
leg_r = alt.Chart(leg_df).mark_text(font=FONT, fontSize=18, align="left",
                                    baseline="alphabetic", color="#000000").encode(
    x=lx("rx"), y=ly("ty"), text="rest:N")
time_lbl = txt("Time (h)", 541, 35.5, 22, align="center", color=INK)
LEG = alt.layer(leg_dots, leg_c, leg_k, leg_r, time_lbl).properties(width=PW, height=95)

chart = alt.concat(
    A, B, E, F, C, D, G, H, LEG,
    columns=4,
    spacing=alt.RowColnumber(row=28, column=57),
    bounds="flush",
    align="each",
).properties(
    padding={"left": 12, "top": 10, "right": 5, "bottom": 0}
).configure_view(stroke=None).configure_axis(
    domainColor=INK, domainWidth=1.2, tickColor=INK, tickWidth=1.2,
    labelFont=FONT, labelFontSize=TICK_FS, labelColor=INK,
)

chart.save("out.html", embed_options={"renderer": "svg", "actions": False})
